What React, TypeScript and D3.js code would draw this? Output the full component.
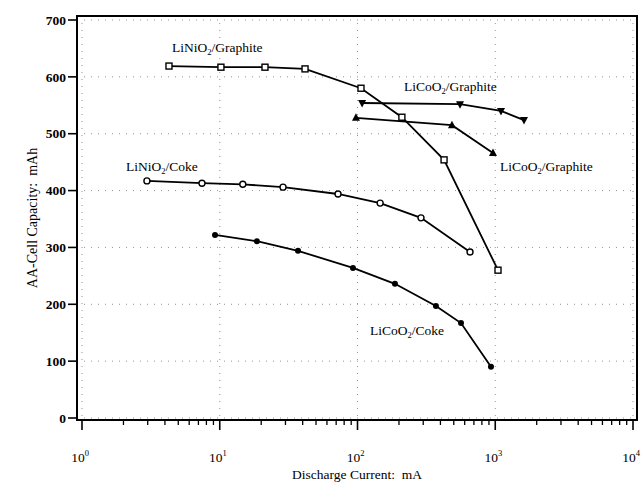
import * as d3 from "d3";

// LiNiO2/Graphite (open squares)
const niGraphiteX = [4.28, 10.2, 21.3, 41.6, 106, 210, 425, 1047];
const niGraphiteY = [619, 617, 617, 614, 580, 529, 454, 260];

// LiCoO2/Graphite, upper curve (inverted triangles)
const coGraphiteAX = [108, 555, 1101, 1617];
const coGraphiteAY = [554, 552, 540, 524];

// LiCoO2/Graphite, lower curve (triangles)
const coGraphiteBX = [97.5, 485, 963];
const coGraphiteBY = [528, 515, 466];

// LiNiO2/Coke (open circles)
const niCokeX = [2.96, 7.43, 14.7, 28.8, 72.2, 146, 289, 656];
const niCokeY = [417, 413, 411, 406, 394, 378, 352, 292];

// LiCoO2/Coke (filled dots)
const coCokeX = [9.24, 18.6, 37, 92.7, 187, 371, 564, 931];
const coCokeY = [322, 311, 294, 264, 236, 197, 167, 90];

const yTicks = [0, 100, 200, 300, 400, 500, 600, 700];
const xDecades = [1, 10, 100, 1000, 10000];
const xExponents = ["0", "1", "2", "3", "4"];

const FONT = "'Liberation Serif', 'DejaVu Serif', serif";

const x = d3.scaleLog().domain([1, 10000]).range([82, 633]);
const y = d3.scaleLinear().domain([0, 700]).range([418, 20]);

const frame = { left: 77, right: 637, top: 16, bottom: 420 };

type Pt = [number, number];
const zip = (xs: number[], ys: number[]): Pt[] => xs.map((v, i) => [v, ys[i]]);

const line = d3
  .line<Pt>()
  .x((d) => x(d[0]))
  .y((d) => y(d[1]));

const minorTicks: number[] = [];
for (let p = 0; p < 4; p++) {
  for (let k = 2; k <= 9; k++) minorTicks.push(k * Math.pow(10, p));
}

function Marker({ kind, cx, cy }: { kind: string; cx: number; cy: number }) {
  if (kind === "square")
    return <rect x={cx - 3} y={cy - 3} width={6} height={6} fill="white" stroke="#000" strokeWidth={1.4} />;
  if (kind === "circle")
    return <circle cx={cx} cy={cy} r={3} fill="white" stroke="#000" strokeWidth={1.4} />;
  if (kind === "tri")
    return <path d={`M${cx},${cy - 4.5}L${cx + 4},${cy + 3}L${cx - 4},${cy + 3}Z`} fill="#000" />;
  if (kind === "itri")
    return <path d={`M${cx},${cy + 4.5}L${cx + 4},${cy - 3}L${cx - 4},${cy - 3}Z`} fill="#000" />;
  return <circle cx={cx} cy={cy} r={3} fill="#000" />;
}

const series = [
  { pts: zip(niGraphiteX, niGraphiteY), kind: "square" },
  { pts: zip(coGraphiteAX, coGraphiteAY), kind: "itri" },
  { pts: zip(coGraphiteBX, coGraphiteBY), kind: "tri" },
  { pts: zip(niCokeX, niCokeY), kind: "circle" },
  { pts: zip(coCokeX, coCokeY), kind: "dot" },
];

function Label({ x0, y0, head, tail }: { x0: number; y0: number; head: string; tail: string }) {
  return (
    <text x={x0} y={y0} fontFamily={FONT} fontSize={13.5} fill="#000">
      {head}
      <tspan fontSize={8.5} dy={3}>2</tspan>
      <tspan dy={-3}>{tail}</tspan>
    </text>
  );
}

export default function App() {
  return (
    <svg width={643} height={482} style={{ display: "block", position: "absolute", left: 0, top: 0, background: "#fff" }}>
      {/* dotted grid */}
      <g stroke="#777" strokeWidth={0.8} strokeDasharray="1 6" fill="none">
        {yTicks.map((t) => (
          <line key={"gy" + t} x1={frame.left} x2={frame.right} y1={y(t)} y2={y(t)} />
        ))}
        {xDecades.map((t) => (
          <line key={"gx" + t} x1={x(t)} x2={x(t)} y1={frame.top} y2={frame.bottom} />
        ))}
      </g>

      {/* frame */}
      <rect
        x={frame.left}
        y={frame.top}
        width={frame.right - frame.left}
        height={frame.bottom - frame.top}
        fill="none"
        stroke="#000"
        strokeWidth={2}
      />

      {/* y axis ticks */}
      {yTicks.map((t) => (
        <g key={"yt" + t}>
          <line x1={frame.left - 9} x2={frame.left} y1={y(t)} y2={y(t)} stroke="#000" strokeWidth={1.6} />
          <text
            x={frame.left - 11}
            y={y(t)}
            dy="0.35em"
            textAnchor="end"
            fontFamily={FONT}
            fontSize={13.5}
            fontWeight="bold"
          >
            {t}
          </text>
        </g>
      ))}

      {/* x axis ticks */}
      {xDecades.map((t, i) => (
        <g key={"xt" + t}>
          <line x1={x(t)} x2={x(t)} y1={frame.bottom} y2={frame.bottom + 10} stroke="#000" strokeWidth={1.6} />
          <text x={x(t) - 2} y={462} textAnchor="middle" fontFamily={FONT} fontSize={13.5}>
            10
            <tspan fontSize={8.5} dy={-6}>{xExponents[i]}</tspan>
          </text>
        </g>
      ))}
      {minorTicks.map((t) => (
        <line key={"mt" + t} x1={x(t)} x2={x(t)} y1={frame.bottom} y2={frame.bottom + 5} stroke="#000" strokeWidth={1.3} />
      ))}

      {/* axis titles */}
      <text
        transform="translate(37,218) rotate(-90)"
        textAnchor="middle"
        fontFamily={FONT}
        fontSize={14}
        style={{ whiteSpace: "pre" }}
      >
        AA-Cell Capacity:  mAh
      </text>
      <text x={357} y={479} textAnchor="middle" fontFamily={FONT} fontSize={13.5} style={{ whiteSpace: "pre" }}>
        Discharge Current:  mA
      </text>

      {/* series */}
      {series.map((s, i) => (
        <g key={"s" + i}>
          <path d={line(s.pts) || ""} fill="none" stroke="#000" strokeWidth={1.8} />
          {s.pts.map((p, j) => (
            <Marker key={j} kind={s.kind} cx={x(p[0])} cy={y(p[1])} />
          ))}
        </g>
      ))}

      {/* labels */}
      <Label x0={172} y0={52} head="LiNiO" tail="/Graphite" />
      <Label x0={404} y0={91} head="LiCoO" tail="/Graphite" />
      <Label x0={500} y0={171} head="LiCoO" tail="/Graphite" />
      <Label x0={126} y0={171} head="LiNiO" tail="/Coke" />
      <Label x0={370} y0={335} head="LiCoO" tail="/Coke" />
    </svg>
  );
}
